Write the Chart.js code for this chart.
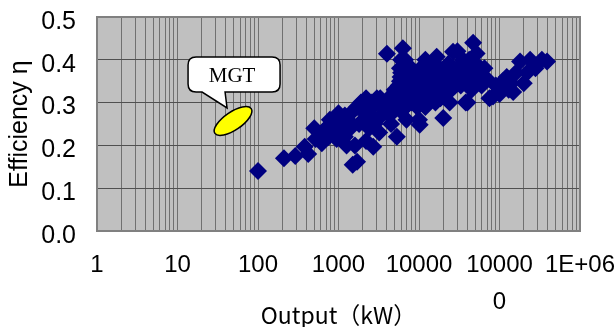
<!DOCTYPE html>
<html>
<head>
<meta charset="utf-8">
<script src="https://cdn.jsdelivr.net/npm/chart.js@4/dist/chart.umd.min.js"></script>
<style>
  html, body { margin: 0; padding: 0; background: #fff; }
  #wrap { width: 614px; height: 327px; }
</style>
</head>
<body>
<div id="wrap"><canvas id="effChart" width="614" height="327"></canvas></div>
<script>
// output (kW) and efficiency of each unit
const outputKW = [
    100, 210, 290, 420, 380, 500, 520, 650, 620, 780, 750, 850, 1000, 1050, 950, 1200,
    1300, 1400, 1500, 1700, 1600, 1800, 2000, 2200, 2200, 2500, 2400, 2800, 3000, 3300, 3500, 3200,
    3800, 4000, 4000, 4300, 4500, 5000, 5300, 5900, 5700, 6000, 6300, 6700, 6500, 7000, 7500, 7000,
    8000, 8500, 9000, 9500, 10000, 10200, 11300, 12000, 12500, 13000, 14000, 15000, 16600, 16000, 18000, 19000,
    20000, 21000, 23000, 26500, 25000, 28000, 30000, 38000, 35000, 38000, 40000, 43000, 47000, 52000, 50000, 55000,
    60000, 65000, 70000, 83000, 90000, 100000, 110000, 123000, 140000, 160000, 180000, 200000, 220000, 240000, 280000, 336000,
    1700, 1900, 3000, 4500, 6000, 8000, 9000, 11000, 15000, 20000, 24000, 30000, 36000, 45000,
    2600, 2800, 3400, 3600, 4200, 4800, 5600, 5800, 6200, 6800, 7200, 7800, 8500, 9500, 10500, 11500,
    12000, 13500, 14500, 16000, 17000, 18500, 22000, 25000, 27000, 33000, 40000, 42000, 48000, 58000,
    1200, 1500, 2100, 900, 700, 1100, 2600, 5800, 6000, 6000, 7500, 10000, 12000, 75000, 130000, 390000,
    2700, 1260, 148000
];
const efficiency = [
    0.14, 0.17, 0.175, 0.18, 0.197, 0.24, 0.215, 0.23, 0.205, 0.26, 0.22, 0.24, 0.275, 0.25, 0.215, 0.22,
    0.26, 0.24, 0.155, 0.162, 0.20, 0.25, 0.28, 0.31, 0.21, 0.27, 0.24, 0.30, 0.26, 0.31, 0.29, 0.23,
    0.30, 0.414, 0.28, 0.27, 0.25, 0.33, 0.22, 0.36, 0.30, 0.28, 0.427, 0.40, 0.37, 0.34, 0.31, 0.26,
    0.38, 0.35, 0.32, 0.29, 0.26, 0.248, 0.37, 0.34, 0.31, 0.39, 0.36, 0.33, 0.407, 0.30, 0.38, 0.35,
    0.264, 0.32, 0.39, 0.419, 0.36, 0.34, 0.38, 0.30, 0.40, 0.35, 0.30, 0.37, 0.44, 0.415, 0.39, 0.36,
    0.34, 0.38, 0.355, 0.314, 0.34, 0.32, 0.35, 0.36, 0.345, 0.37, 0.396, 0.345, 0.37, 0.40, 0.38, 0.40,
    0.29, 0.30, 0.31, 0.30, 0.32, 0.30, 0.36, 0.30, 0.38, 0.33, 0.30, 0.42, 0.36, 0.33,
    0.29, 0.25, 0.27, 0.30, 0.31, 0.29, 0.34, 0.35, 0.31, 0.29, 0.36, 0.33, 0.31, 0.34, 0.33, 0.35,
    0.29, 0.33, 0.31, 0.36, 0.33, 0.31, 0.36, 0.33, 0.38, 0.34, 0.38, 0.40, 0.36, 0.38,
    0.27, 0.28, 0.26, 0.25, 0.24, 0.23, 0.30, 0.38, 0.40, 0.37, 0.38, 0.376, 0.40, 0.31, 0.33, 0.396,
    0.197, 0.20, 0.325
];

const xTickLabels = { 1: '1', 10: '10', 100: '100', 1000: '1000', 10000: '10000', 100000: ['10000', '0'], 1000000: '1E+06' };
const yTickStep = 0.1;

// MGT region marker (centre, in kW / efficiency)
const mgtLabel = 'MGT';
const mgtCentre = [49, 0.257];

const points = outputKW.map((x, i) => ({ x: x, y: efficiency[i] }));

const plotFrame = {
    id: 'plotFrame',
    beforeDraw(chart) {
        const a = chart.chartArea;
        const ctx = chart.ctx;
        ctx.save();
        ctx.fillStyle = '#c0c0c0';
        ctx.fillRect(a.left, a.top, a.right - a.left, a.bottom - a.top);
        ctx.restore();
    },
    afterDraw(chart) {
        const a = chart.chartArea;
        const ctx = chart.ctx;
        ctx.save();
        ctx.strokeStyle = '#808080';
        ctx.lineWidth = 2;
        ctx.strokeRect(a.left, a.top, a.right - a.left, a.bottom - a.top);

        // MGT ellipse + callout
        const cx = chart.scales.x.getPixelForValue(mgtCentre[0]);
        const cy = chart.scales.y.getPixelForValue(mgtCentre[1]);
        ctx.lineWidth = 1.5;
        ctx.strokeStyle = '#000';
        ctx.fillStyle = '#ffff00';
        ctx.beginPath();
        ctx.ellipse(cx, cy, 22, 9, -0.6, 0, Math.PI * 2);
        ctx.fill();
        ctx.stroke();

        const l = cx - 45, r = cx + 47, t = cy - 64, b = cy - 29, rad = 8;
        ctx.fillStyle = '#fff';
        ctx.beginPath();
        ctx.moveTo(l + rad, t);
        ctx.lineTo(r - rad, t);
        ctx.quadraticCurveTo(r, t, r, t + rad);
        ctx.lineTo(r, b - rad);
        ctx.quadraticCurveTo(r, b, r - rad, b);
        ctx.lineTo(cx - 8, b);
        ctx.lineTo(cx - 6, cy - 13);
        ctx.lineTo(cx - 31, b);
        ctx.lineTo(l + rad, b);
        ctx.quadraticCurveTo(l, b, l, b - rad);
        ctx.lineTo(l, t + rad);
        ctx.quadraticCurveTo(l, t, l + rad, t);
        ctx.closePath();
        ctx.fill();
        ctx.stroke();

        ctx.fillStyle = '#000';
        ctx.font = '21px "Liberation Serif", "Times New Roman", serif';
        ctx.textAlign = 'center';
        ctx.textBaseline = 'middle';
        ctx.fillText(mgtLabel, cx - 1, cy - 45);
        ctx.restore();
    }
};

const ctx = document.getElementById('effChart').getContext('2d');
new Chart(ctx, {
    type: 'scatter',
    data: {
        datasets: [{
            data: points,
            pointStyle: 'rectRot',
            pointRadius: 9,
            pointHoverRadius: 9,
            backgroundColor: '#000080',
            borderColor: '#000080',
            borderWidth: 0
        }]
    },
    options: {
        responsive: false,
        animation: false,
        layout: { padding: { left: 0, right: 34, top: 17, bottom: 0 } },
        plugins: { legend: { display: false }, tooltip: { enabled: false } },
        scales: {
            x: {
                type: 'logarithmic',
                min: 1,
                max: 1000000,
                afterBuildTicks(scale) {
                    const ticks = [];
                    for (let e = 0; e < 6; e++) {
                        for (let s = 1; s < 10; s++) ticks.push({ value: s * Math.pow(10, e) });
                    }
                    ticks.push({ value: 1000000 });
                    scale.ticks = ticks;
                },
                afterFit(scale) {
                    scale.height = 96;
                    scale.paddingLeft = 0;
                    scale.paddingRight = 0;
                },
                grid: { color: '#707070', lineWidth: 1, drawTicks: false },
                border: { display: false },
                ticks: {
                    autoSkip: false,
                    maxRotation: 0,
                    padding: 16,
                    color: '#000',
                    font: { family: '"Liberation Sans", Arial, sans-serif', size: 24, lineHeight: '37px' },
                    callback: (v) => xTickLabels[v] !== undefined ? xTickLabels[v] : ''
                },
                title: {
                    display: true,
                    text: 'Output（kW）',
                    color: '#000',
                    padding: 0,
                    font: { family: '"Noto Sans CJK JP", sans-serif', size: 23, lineHeight: 1.0 }
                }
            },
            y: {
                min: 0,
                max: 0.5,
                afterFit(scale) {
                    scale.width = 97;
                    scale.paddingTop = 0;
                    scale.paddingBottom = 0;
                },
                grid: { color: '#505050', lineWidth: 1, drawTicks: false },
                border: { display: false },
                ticks: {
                    stepSize: yTickStep,
                    padding: 21,
                    labelOffset: 5,
                    color: '#000',
                    font: { family: '"Liberation Sans", Arial, sans-serif', size: 25 },
                    callback: (v) => v.toFixed(1)
                },
                title: {
                    display: true,
                    text: 'Efficiency η',
                    color: '#000',
                    padding: { top: 8, bottom: 0 },
                    font: { family: '"Liberation Sans", Arial, sans-serif', size: 25, lineHeight: 1.0 }
                }
            }
        }
    },
    plugins: [plotFrame]
});
</script>
</body>
</html>
